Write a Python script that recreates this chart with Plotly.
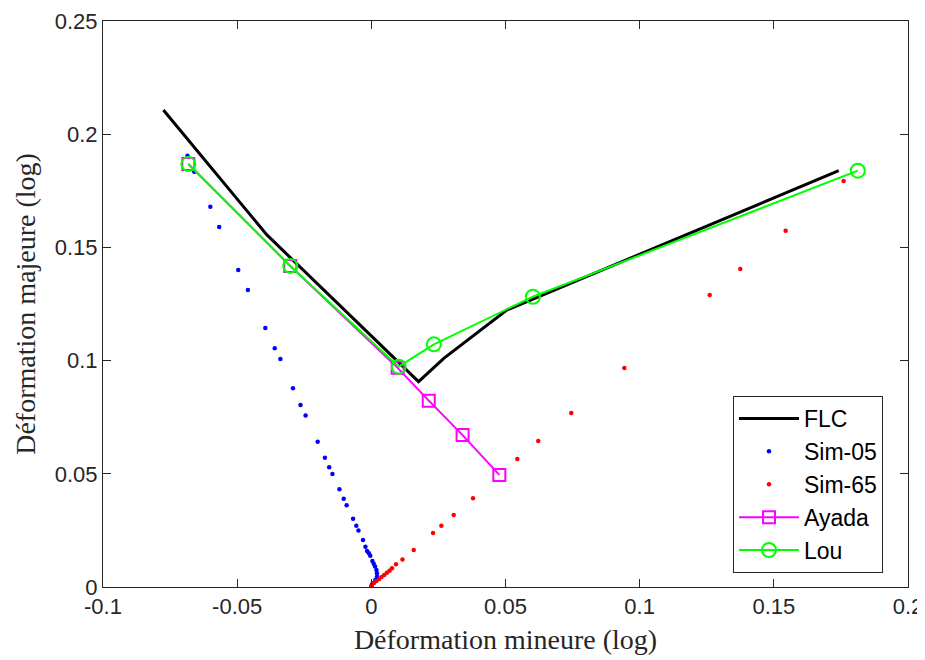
import plotly.graph_objects as go

# FLC
flc_x = [-0.0775, -0.0389, 0.0176, 0.0270, 0.0506, 0.1742]
flc_y = [0.2107, 0.1555, 0.0907, 0.1010, 0.1224, 0.1839]

# Sim-05 (blue dots)
sim05_x = [-0.0685, -0.0660, -0.0600, -0.0567, -0.0496, -0.0460, -0.0395, -0.0360, -0.0339,
           -0.0292, -0.0264, -0.0245, -0.0200, -0.0173, -0.0157, -0.0145, -0.0119, -0.0103,
           -0.0092, -0.0068, -0.0056, -0.0048, -0.0031, -0.0022, -0.0016, -0.0009, -0.0004,
           0.0004, 0.0009, 0.0014, 0.0019, 0.0021, 0.0021, 0.0015, 0.0009, 0.0003, 0.0000]
sim05_y = [0.1905, 0.1834, 0.1680, 0.1590, 0.1400, 0.1312, 0.1144, 0.1054, 0.1007,
           0.0878, 0.0804, 0.0757, 0.0642, 0.0571, 0.0529, 0.0499, 0.0432, 0.0390,
           0.0361, 0.0302, 0.0271, 0.0250, 0.0208, 0.0178, 0.0159, 0.0149, 0.0138,
           0.0115, 0.0103, 0.0090, 0.0075, 0.0061, 0.0045, 0.0031, 0.0019, 0.0012, 0.0000]

# Sim-65 (red dots)
sim65_x = [0.0000, 0.0001, 0.0009, 0.0019, 0.0029, 0.0038, 0.0048, 0.0058, 0.0068, 0.0077,
           0.0092, 0.0116, 0.0158, 0.0230, 0.0261, 0.0307, 0.0379, 0.0544, 0.0622, 0.0745,
           0.0943, 0.1261, 0.1375, 0.1544, 0.1760]
sim65_y = [0.0000, 0.0008, 0.0018, 0.0027, 0.0035, 0.0044, 0.0053, 0.0063, 0.0072, 0.0083,
           0.0100, 0.0122, 0.0163, 0.0239, 0.0271, 0.0318, 0.0392, 0.0565, 0.0645, 0.0769,
           0.0967, 0.1290, 0.1405, 0.1574, 0.1793]

# Ayada
ayada_x = [-0.0682, -0.0302, 0.0098, 0.0214, 0.0340, 0.0477]
ayada_y = [0.1868, 0.1418, 0.0968, 0.0823, 0.0671, 0.0495]

# Lou
lou_x = [-0.0682, -0.0302, 0.0102, 0.0233, 0.0602, 0.1813]
lou_y = [0.1868, 0.1418, 0.0973, 0.1072, 0.1282, 0.1839]

x_ticks = [-0.1, -0.05, 0, 0.05, 0.1, 0.15, 0.2]
x_ticktext = ["-0.1", "-0.05", "0", "0.05", "0.1", "0.15", "0.2"]
y_ticks = [0, 0.05, 0.1, 0.15, 0.2, 0.25]
y_ticktext = ["0", "0.05", "0.1", "0.15", "0.2", "0.25"]

fig = go.Figure()
fig.add_trace(go.Scatter(x=flc_x, y=flc_y, mode="lines", name="FLC", legendgroup="a",
                         line=dict(color="black", width=3)))
fig.add_trace(go.Scatter(x=sim05_x, y=sim05_y, mode="markers", name="Sim-05", legendgroup="b",
                         marker=dict(color="#0000ff", size=4.5)))
fig.add_trace(go.Scatter(x=sim65_x, y=sim65_y, mode="markers", name="Sim-65", legendgroup="c",
                         marker=dict(color="#ff0000", size=4.5)))
fig.add_trace(go.Scatter(x=ayada_x, y=ayada_y, mode="lines+markers", name="Ayada", legendgroup="d",
                         line=dict(color="#ff00ff", width=2),
                         marker=dict(symbol="square-open", size=12, color="#ff00ff",
                                     line=dict(width=2, color="#ff00ff"))))
fig.add_trace(go.Scatter(x=lou_x, y=lou_y, mode="lines+markers", name="Lou", legendgroup="e",
                         line=dict(color="#00ff00", width=2),
                         marker=dict(symbol="circle-open", size=14, color="#00ff00",
                                     line=dict(width=2, color="#00ff00"))))

axis_common = dict(showgrid=False, zeroline=False, showline=True, mirror="ticks",
                   linecolor="#262626", linewidth=1, ticks="inside", ticklen=8,
                   tickcolor="#262626", automargin=False,
                   tickfont=dict(family="Liberation Sans, Arial", size=22, color="#262626"))

# page body has an 8px margin (left/top), so the figure is shrunk by 8px
fig.update_layout(
    width=917, height=652,
    margin=dict(l=95, r=17, t=13, b=73),
    paper_bgcolor="white", plot_bgcolor="white",
    xaxis=dict(range=[-0.1, 0.2], tickvals=x_ticks, ticktext=x_ticktext,
               title=dict(text="Déformation mineure (log)", standoff=10,
                          font=dict(family="Liberation Serif, Times New Roman", size=28, color="#262626")),
               **axis_common),
    yaxis=dict(range=[0, 0.25], tickvals=y_ticks, ticktext=y_ticktext,
               title=dict(text="Déformation majeure (log)", standoff=10,
                          font=dict(family="Liberation Serif, Times New Roman", size=28, color="#262626")),
               **axis_common),
    legend=dict(x=0.7826, y=0.3375, xanchor="left", yanchor="top",
                bordercolor="#262626", borderwidth=1, bgcolor="white",
                font=dict(family="Liberation Sans, Arial", size=23, color="black"),
                tracegroupgap=0, itemwidth=60),
    showlegend=True,
)

fig.write_html("out.html")
